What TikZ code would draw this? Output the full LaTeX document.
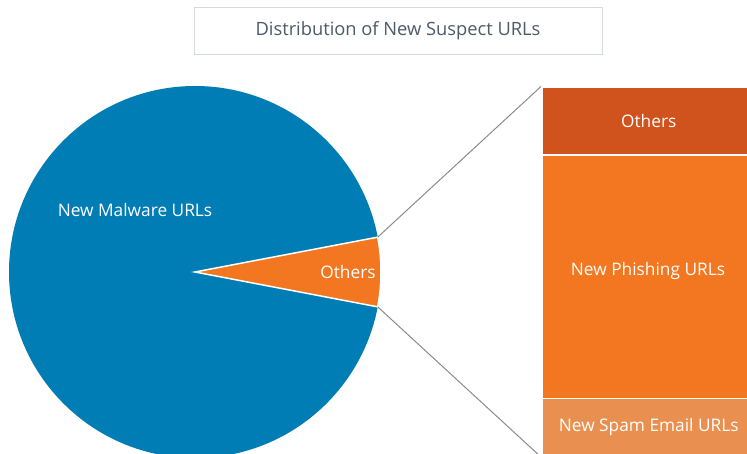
\documentclass[tikz,border=0pt]{standalone}
\usepackage{fontspec}
\setmainfont{Open Sans}
\definecolor{pieblue}{HTML}{007DB4}
\definecolor{orangemain}{HTML}{F37721}
\definecolor{orangedark}{HTML}{D0521C}
\definecolor{orangelight}{HTML}{E99050}
\definecolor{titlegray}{HTML}{4D5A68}
\definecolor{framegray}{HTML}{D5DADB}
\definecolor{linegray}{HTML}{8C8C8C}
\tikzset{
  lbl/.style={text=white, font=\fontsize{17.3}{20}\selectfont, inner sep=0pt},
  seg/.style={draw=white, line width=1.5pt, anchor=north west, minimum width=214pt, inner sep=0pt, text=white, font=\fontsize{17.3}{20}\selectfont},
  zoomline/.style={draw=linegray, line width=1pt},
}
\begin{document}
\begin{tikzpicture}[x=1pt, y=-1pt]
\useasboundingbox (0,0) rectangle (747,454);
\clip (0,0) rectangle (747,454);
\fill[white] (0,0) rectangle (747,454);
% title
\node[draw=framegray, line width=0.8pt, minimum width=408pt, minimum height=47pt, inner sep=0pt, text=titlegray, font=\fontsize{18.3}{21}\selectfont] (title) at (398,30.5) {Distribution of New Suspect URLs};
% pie
\coordinate (c) at (195,272);
\fill[pieblue] (c) circle (186pt);
\filldraw[fill=orangemain, draw=white, line width=1.5pt] (c) -- ++(10.8:186pt) coordinate (wtop) arc[start angle=10.8, end angle=-10.8, radius=186pt] coordinate (wbot) -- cycle;
\node[lbl] (malware) at (135,210) {New Malware URLs};
\node[lbl] (pieoth) at (348,272) {Others};
% bar
\node[seg, fill=orangedark, minimum height=68pt] (oth) at (541,86.5) {Others};
\node[seg, fill=orangemain, minimum height=243pt] (phish) at (541,154.5) {};
\node[lbl] (phishlbl) at (648,271) {New Phishing URLs};
\node[seg, fill=orangelight, minimum height=58pt] (spam) at (541,397.5) {New Spam Email URLs};
% zoom lines
\draw[zoomline] (wtop) -- (oth.north west);
\draw[zoomline] (wbot) -- (spam.south west);
\end{tikzpicture}
\end{document}
